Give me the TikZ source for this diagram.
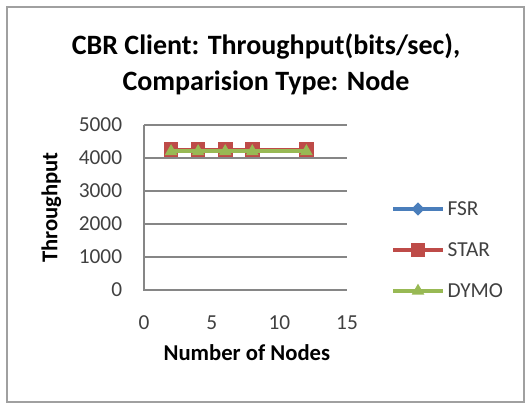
\documentclass[tikz,border=0pt]{standalone}
\usepackage{fontspec}
\setmainfont{Carlito}
\usepackage{tikz}
\usetikzlibrary{positioning,shapes.geometric}

\definecolor{fsrblue}{RGB}{74,126,187}
\definecolor{starred}{RGB}{190,75,72}
\definecolor{dymogreen}{RGB}{152,185,84}
\definecolor{gridgray}{RGB}{134,134,134}
\definecolor{framegray}{RGB}{160,160,160}

\tikzset{
  ticklabel/.style={font=\fontsize{16}{19}\selectfont, text=black!75, inner sep=1pt},
  axistitle/.style={font=\bfseries\fontsize{17}{20}\selectfont, inner sep=1pt},
  fsrmark/.style={diamond, fill=fsrblue, inner sep=0pt, minimum size=10pt},
  starmark/.style={rectangle, fill=starred, inner sep=0pt, minimum size=11pt},
  dymomark/.style={regular polygon, regular polygon sides=3, fill=dymogreen, inner sep=0pt, minimum size=11pt},
  serie/.style={line width=3pt}
}

\begin{document}
\begin{tikzpicture}[x=0.75pt,y=-0.75pt]
            \useasboundingbox (0,0) rectangle (530,404);
            \draw[framegray, line width=1.5pt] (7,7) rectangle (524,402);

            % title
            \node[align=center, font=\bfseries\fontsize{21}{27}\selectfont] (title) at (266,64) {CBR Client: Throughput(bits/sec),\\Comparision Type: Node};

            % plot area
            \begin{scope}[shift={(144,290)}, x=10.15pt, y=0.02475pt]
                \foreach \v in {1000,2000,3000,4000,5000}
                    \draw[gridgray, line width=1.2pt] (0,\v) -- (15,\v);
                \draw[gridgray, line width=1.2pt] (0,5000) -- (0,0) -- (15,0);

                \foreach \v in {0,1000,2000,3000,4000,5000}
                    \node[ticklabel, anchor=east] (ylab\v) at (-1.5,\v) {\v};
                \foreach \v in {0,5,10,15}
                    \node[ticklabel] (xlab\v) at (\v,-1000) {\v};

                \node[axistitle] (xtitle) at (7.6,-1900) {Number of Nodes};
                \node[axistitle, rotate=90] (ytitle) at (-6.85,2500) {Throughput};

                % series
                \draw[serie, fsrblue] (2,4250) -- (4,4250) -- (6,4250) -- (8,4250) -- (12,4250);
                \foreach \n in {2,4,6,8,12}
                    \node[fsrmark] (fsr\n) at (\n,4250) {};
                \draw[serie, starred] (2,4250) -- (4,4250) -- (6,4250) -- (8,4250) -- (12,4250);
                \foreach \n in {2,4,6,8,12}
                    \node[starmark] (star\n) at (\n,4250) {};
                \draw[serie, dymogreen] (2,4200) -- (4,4200) -- (6,4200) -- (8,4200) -- (12,4200);
                \foreach \n in {2,4,6,8,12}
                    \node[dymomark] (dymo\n) at (\n,4200) {};
            \end{scope}

            % legend
            \coordinate (fsrA) at (393,209);
            \coordinate (fsrB) at (443,209);
            \draw[serie, fsrblue] (fsrA) -- (fsrB);
            \node[fsrmark] (fsrkey) at (418,209) {};
            \node[ticklabel, anchor=west] (fsrtext) at (446,209) {FSR};

            \coordinate (starA) at (393,250);
            \coordinate (starB) at (443,250);
            \draw[serie, starred] (starA) -- (starB);
            \node[starmark] (starkey) at (418,250) {};
            \node[ticklabel, anchor=west] (startext) at (446,250) {STAR};

            \coordinate (dymoA) at (393,291);
            \coordinate (dymoB) at (443,291);
            \draw[serie, dymogreen] (dymoA) -- (dymoB);
            \node[dymomark] (dymokey) at (418,291) {};
            \node[ticklabel, anchor=west] (dymotext) at (446,291) {DYMO};
        \end{tikzpicture}
\end{document}
